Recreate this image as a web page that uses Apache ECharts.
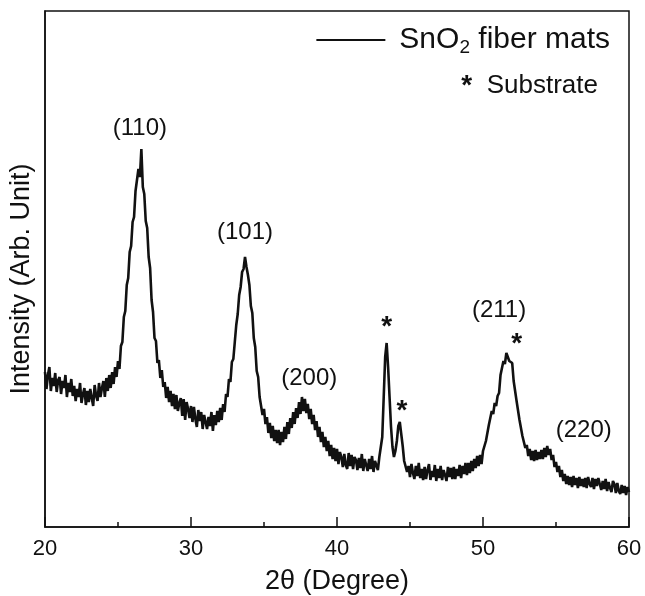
<!DOCTYPE html>
<html>
<head>
<meta charset="utf-8">
<script src="https://cdn.jsdelivr.net/npm/echarts@6/dist/echarts.min.js"></script>
<style>
  html, body { margin: 0; padding: 0; background: #fff; }
  #chart { width: 645px; height: 596px; }
</style>
</head>
<body>
<div id="chart"></div>
<script>
// 2θ from 20 to 60 in 0.1° steps, intensity (arb. units)
var thetaStart = 20, thetaStep = 0.1;
var intensity = [
  155,138,152,160,136,149,141,154,135,147,
  150,133,146,139,152,130,144,135,148,131,
  141,126,138,130,144,124,133,139,122,136,
  125,138,129,121,142,131,126,144,130,139,
  146,130,149,136,152,139,155,143,160,150,
  166,158,181,185,210,216,242,249,275,281,
  305,310,336,335,358,350,378,340,333,306,
  299,270,259,227,215,189,186,164,167,149,
  157,140,145,129,140,125,136,121,133,118,
  132,116,124,129,111,128,107,125,118,109,
  121,105,120,108,100,117,106,115,98,112,
  114,98,110,101,115,96,112,102,116,105,
  119,107,123,115,133,130,148,145,165,168,
  185,202,213,232,240,255,258,270,260,252,
  242,221,214,189,180,156,150,130,129,112,
  118,103,110,94,104,89,101,86,97,84,
  97,82,95,85,100,88,105,93,109,99,
  115,103,119,109,125,113,130,116,128,114,
  123,108,118,103,112,97,106,90,100,85,
  95,80,90,76,86,71,82,68,79,66,
  78,63,75,70,60,73,62,58,74,61,
  72,58,70,67,57,69,59,73,56,68,
  70,56,68,58,71,55,66,64,57,70,
  72,90,130,170,184,160,130,100,80,70,
  76,86,101,105,93,81,66,64,55,61,
  50,63,54,48,61,51,64,49,58,47,
  60,48,57,63,47,56,50,62,46,58,
  49,61,47,57,52,46,60,50,59,48,
  60,48,58,51,62,49,61,53,64,52,
  64,54,66,56,68,59,71,61,72,63,
  76,74,86,87,102,102,116,113,124,121,
  131,134,152,151,166,163,174,176,166,168,
  164,146,144,126,124,107,106,91,92,79,
  82,71,78,67,76,66,77,67,75,68,
  77,68,79,70,81,72,78,67,72,60,
  65,55,61,50,57,46,53,43,51,42,
  50,40,51,42,49,39,50,41,48,40,
  49,39,50,43,40,49,38,48,41,49,
  47,37,46,38,48,36,45,39,35,46,
  43,34,44,36,33,42,34,41,32,40,
  35
];

// peak labels (Miller indices) and substrate stars, placed in data coordinates
var peakLabels = ['(110)', '(101)', '(200)', '(211)', '(220)'];
var peakLabelX = [26.5, 33.7, 38.1, 51.1, 56.9];
var peakLabelY = [399, 295, 149, 217, 97];
var starX = [43.4, 44.45, 52.3];
var starY = [200, 116, 183];

var xTicks = [20, 30, 40, 50, 60];

var lineData = intensity.map(function (v, i) {
  return [+(thetaStart + i * thetaStep).toFixed(1), v];
});
var labelData = peakLabels.map(function (t, i) {
  return { name: t, value: [peakLabelX[i], peakLabelY[i]] };
});
var starData = starX.map(function (x, i) {
  return { name: '*', value: [x, starY[i]] };
});

var font = "'Liberation Sans', Arial, Helvetica, sans-serif";
var ink = '#111';

var chart = echarts.init(document.getElementById('chart'));
chart.setOption({
  backgroundColor: '#fff',
  animation: false,
  textStyle: { fontFamily: font, color: ink },
  grid: {
    left: 45, right: 16, top: 11, bottom: 69,
    outerBoundsMode: 'none',
    containLabel: false,
    show: true, borderColor: ink, borderWidth: 1.5
  },
  legend: {
    data: ['SnO2 fiber mats'],
    right: 30, top: 20,
    itemWidth: 69, itemHeight: 14,
    icon: 'path://M0,6 L68,6 L68,8 L0,8 Z',
    itemStyle: { color: ink },
    formatter: function () { return 'SnO{sub|2} fiber mats'; },
    textStyle: {
      fontFamily: font, fontSize: 30, color: ink, padding: [0, 0, 0, 9],
      rich: {
        sub: { fontSize: 19, fontFamily: font, color: ink, padding: [16, 0, 0, 0] }
      }
    }
  },
  graphic: [{
    type: 'text',
    right: 47, top: 72,
    style: {
      text: '{s|*}  Substrate', fontFamily: font, fontSize: 26, fill: ink,
      rich: { s: { fontSize: 28, fontWeight: 'bold', fontFamily: font, fill: ink } }
    }
  }],
  xAxis: {
    type: 'value',
    min: 20, max: 60, interval: 10,
    name: '2\u03b8 (Degree)',
    nameLocation: 'middle',
    nameGap: 41,
    nameTextStyle: { fontSize: 27, color: ink, fontFamily: font },
    axisLine: { show: true, lineStyle: { color: ink, width: 1.5 } },
    axisTick: { show: true, inside: true, length: 10, lineStyle: { color: ink, width: 1.5 } },
    minorTick: { show: true, splitNumber: 2, length: 5, lineStyle: { color: ink, width: 1.5 } },
    splitLine: { show: false },
    axisLabel: {
      fontSize: 22, color: ink, margin: 11, fontFamily: font,
      formatter: function (v) { return xTicks.indexOf(v) >= 0 ? String(v) : ''; }
    }
  },
  yAxis: {
    type: 'value',
    min: 0, max: 516,
    name: 'Intensity (Arb. Unit)',
    nameLocation: 'middle',
    nameRotate: 90,
    nameGap: 10,
    nameTextStyle: { fontSize: 27, color: ink, fontFamily: font, padding: [0, 20, 0, 0] },
    axisLine: { show: true, lineStyle: { color: ink, width: 1.5 } },
    axisTick: { show: false },
    axisLabel: { show: false },
    splitLine: { show: false }
  },
  series: [
    {
      name: 'SnO2 fiber mats',
      type: 'line',
      data: lineData,
      symbol: 'none',
      lineStyle: { color: ink, width: 2.6 },
      itemStyle: { color: ink },
      z: 3
    },
    {
      type: 'scatter',
      data: labelData,
      symbolSize: 1,
      itemStyle: { color: 'rgba(0,0,0,0)', opacity: 1 },
      label: {
        show: true, position: 'inside', formatter: '{b}',
        fontSize: 24, color: ink, opacity: 1, fontFamily: font
      },
      silent: true
    },
    {
      type: 'scatter',
      data: starData,
      symbolSize: 1,
      itemStyle: { color: 'rgba(0,0,0,0)', opacity: 1 },
      label: {
        show: true, position: 'inside', formatter: '{b}',
        fontSize: 28, fontWeight: 'bold', color: ink, opacity: 1, fontFamily: font
      },
      silent: true
    }
  ]
});
</script>
</body>
</html>
